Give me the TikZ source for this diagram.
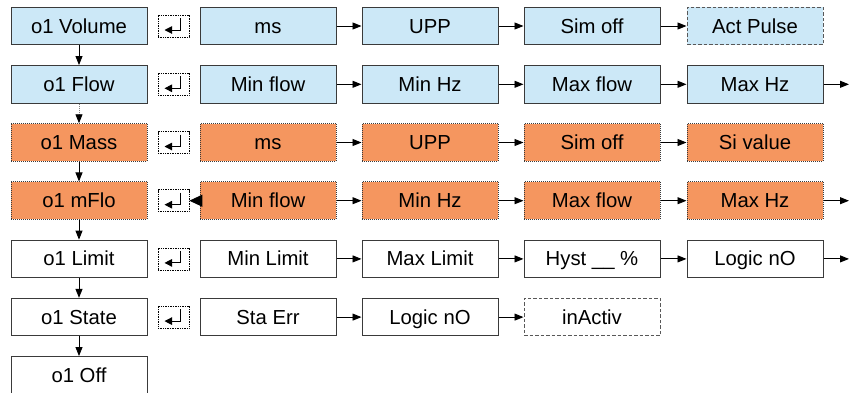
\documentclass[tikz,border=0pt]{standalone}
\usepackage{fontspec}
\setmainfont{Liberation Sans}
\usetikzlibrary{arrows.meta}
\definecolor{lblue}{HTML}{CCE8F7}
\definecolor{orng}{HTML}{F5965F}
\definecolor{bord}{HTML}{3A3A3A}
\begin{document}
\begin{tikzpicture}[x=1pt,y=-1pt,
  box/.style={minimum width=136pt,minimum height=37.5pt,inner sep=0pt,
    text height=16pt,text depth=2pt,font=\fontsize{20.3}{22}\selectfont,line width=1pt},
  bluebox/.style={box,draw=bord,fill=lblue},
  orangebox/.style={box,draw=bord,fill=orng,dash pattern=on 1pt off 1pt},
  whitebox/.style={box,draw=bord,fill=white},
  bluedash/.style={box,draw=bord!85,fill=lblue,dash pattern=on 3.5pt off 2pt},
  whitedash/.style={box,draw=bord!85,fill=white,dash pattern=on 3.5pt off 2pt},
  entericon/.style={draw=black,dash pattern=on 1pt off 0.7pt,line width=0.8pt,
    minimum width=31pt,minimum height=22pt,inner sep=0pt,
    path picture={\draw[solid,line width=1pt,-{Triangle[length=7.5pt,width=7.5pt]}]
      ([shift={(6.5,-8)}]path picture bounding box.center) -- ++(0,12) -- ++(-15.5,0);}},
  arr/.style={-{Triangle[length=9pt,width=7pt]},line width=0.9pt,black},
]
\useasboundingbox (0,0) rectangle (852,392);

% left column
\node[bluebox]   (L1) at (79,26)    {o1 Volume};
\node[bluebox]   (L2) at (79,84.3)  {o1 Flow};
\node[orangebox] (L3) at (79,142.5) {o1 Mass};
\node[orangebox] (L4) at (79,200.7) {o1 mFlo};
\node[whitebox]  (L5) at (79,258.9) {o1 Limit};
\node[whitebox]  (L6) at (79,317.1) {o1 State};
\node[whitebox]  (L7) at (79,375.3) {o1 Off};

% enter icons
\node[entericon] (E1) at (173.5,26) {};
\node[entericon] (E2) at (173.5,84.3) {};
\node[entericon] (E3) at (173.5,142.5) {};
\node[entericon] (E4) at (173.5,200.7) {};
\node[entericon] (E5) at (173.5,258.9) {};
\node[entericon] (E6) at (173.5,317.1) {};

% row 1
\node[bluebox]  (A1) at (268,26) {ms};
\node[bluebox]  (A2) at (430,26) {UPP};
\node[bluebox]  (A3) at (592,26) {Sim off};
\node[bluedash] (A4) at (755,26) {Act Pulse};
% row 2
\node[bluebox] (B1) at (268,84.3) {Min flow};
\node[bluebox] (B2) at (430,84.3) {Min Hz};
\node[bluebox] (B3) at (592,84.3) {Max flow};
\node[bluebox] (B4) at (755,84.3) {Max Hz};
\coordinate (Bout) at (849,84.3);
% row 3
\node[orangebox] (C1) at (268,142.5) {ms};
\node[orangebox] (C2) at (430,142.5) {UPP};
\node[orangebox] (C3) at (592,142.5) {Sim off};
\node[orangebox] (C4) at (755,142.5) {Si value};
% row 4
\node[orangebox] (D1) at (268,200.7) {Min flow};
\node[orangebox] (D2) at (430,200.7) {Min Hz};
\node[orangebox] (D3) at (592,200.7) {Max flow};
\node[orangebox] (D4) at (755,200.7) {Max Hz};
\coordinate (Dout) at (849,200.7);
% row 5
\node[whitebox] (F1) at (268,258.9) {Min Limit};
\node[whitebox] (F2) at (430,258.9) {Max Limit};
\node[whitebox] (F3) at (592,258.9) {Hyst \_\_ \%};
\node[whitebox] (F4) at (755,258.9) {Logic nO};
\coordinate (Fout) at (849,258.9);
% row 6
\node[whitebox]  (G1) at (268,317.1) {Sta Err};
\node[whitebox]  (G2) at (430,317.1) {Logic nO};
\node[whitedash] (G3) at (592,317.1) {inActiv};

% vertical arrows
\draw[arr] (L1) -- (L2);
\draw[line width=0.9pt,gray,dash pattern=on 1pt off 1pt,
  -{Triangle[length=9pt,width=7pt,color=black]}] (L2) -- (L3);
\draw[arr] (L3) -- (L4);
\draw[arr] (L4) -- (L5);
\draw[arr] (L5) -- (L6);
\draw[arr] (L6) -- (L7);

% horizontal arrows
\draw[arr] (A1) -- (A2);
\draw[arr] (A2) -- (A3);
\draw[arr] (A3) -- (A4);
\draw[arr] (B1) -- (B2);
\draw[arr] (B2) -- (B3);
\draw[arr] (B3) -- (B4);
\draw[arr] (B4) -- (Bout);
\draw[arr] (C1) -- (C2);
\draw[arr] (C2) -- (C3);
\draw[arr] (C3) -- (C4);
\draw[arr] (D1) -- (D2);
\draw[arr] (D2) -- (D3);
\draw[arr] (D3) -- (D4);
\draw[arr] (D4) -- (Dout);
\draw[line width=0.9pt,-{Triangle[length=13pt,width=12pt]}] (D1.west) -- (E4.east);
\draw[arr] (F1) -- (F2);
\draw[arr] (F2) -- (F3);
\draw[arr] (F3) -- (F4);
\draw[arr] (F4) -- (Fout);
\draw[arr] (G1) -- (G2);
\draw[arr] (G2) -- (G3);
\end{tikzpicture}
\end{document}
